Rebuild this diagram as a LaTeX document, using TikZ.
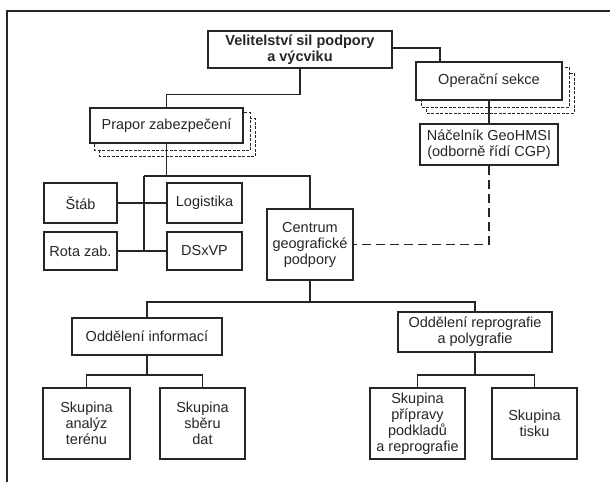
\documentclass[tikz,border=0pt]{standalone}
\usepackage{fontspec}
\setmainfont{Liberation Sans}
\usetikzlibrary{backgrounds}
\definecolor{ink}{HTML}{262626}
\begin{document}
\begin{tikzpicture}[x=1pt,y=-1pt,
  box/.style={draw=ink, fill=white, line width=1.6pt, inner sep=0pt, align=center,
    font=\fontsize{14.5}{16}\selectfont, text=ink},
  thickbox/.style={box, line width=2.6pt},
  conn/.style={draw=ink, line width=1.35pt},
  dconn/.style={draw=ink, line width=1.5pt, dash pattern=on 9pt off 5pt},
  shadowbox/.style={draw=ink, fill=white, line width=0.9pt, dash pattern=on 3pt off 1.5pt},
  frameline/.style={draw=ink, line width=1.5pt}]
\useasboundingbox (0,0) rectangle (610,482);
\draw[frameline] (7,482) -- (7,11) -- (610,11);

% nodes
\node[thickbox, minimum width=184pt, minimum height=37pt, font=\fontsize{14.5}{16}\selectfont\bfseries] (top) at (300,49.5) {Velitelství sil podpory\\a výcviku};
\node[box, line width=2pt, minimum width=146pt, minimum height=38pt] (ops) at (489,81) {Operační sekce};
\node[thickbox, minimum width=138pt, minimum height=41pt] (nac) at (489,144.5) {Náčelník GeoHMSI\\(odborně řídí CGP)};
\node[thickbox, minimum width=153pt, minimum height=35pt] (pra) at (166.5,125.5) {Prapor zabezpečení};
\node[box, minimum width=73pt, minimum height=40pt] (stab) at (80.5,203) {Štáb};
\node[box, minimum width=75pt, minimum height=40pt] (log) at (204.5,203) {Logistika};
\node[box, minimum width=73pt, minimum height=38pt] (rota) at (80.5,251) {Rota zab.};
\node[box, minimum width=75pt, minimum height=38pt] (dsx) at (204.5,251) {DSxVP};
\node[thickbox, minimum width=86pt, minimum height=71pt] (cgp) at (310,244.5) {Centrum\\geografické\\podpory};
\node[thickbox, minimum width=150pt, minimum height=37pt] (oi) at (147,336.5) {Oddělení informací};
\node[thickbox, minimum width=154pt, minimum height=40pt] (or) at (475,332) {Oddělení reprografie\\a polygrafie};
\node[box, minimum width=87pt, minimum height=71pt] (s1) at (86.5,423.5) {Skupina\\analýz\\terénu};
\node[box, minimum width=85pt, minimum height=71pt] (s2) at (202.5,423.5) {Skupina\\sběru\\dat};
\node[box, minimum width=95pt, minimum height=71pt] (s3) at (417.5,423.5) {Skupina\\přípravy\\podkladů\\a reprografie};
\node[box, minimum width=85pt, minimum height=71pt] (s4) at (534.5,423.5) {Skupina\\tisku};

% stacked copies
\begin{pgfonlayer}{background}
\foreach \n in {pra,ops}{
  \draw[shadowbox] ([shift={(11,12)}]\n.north west) rectangle ([shift={(11,12)}]\n.south east);
  \draw[shadowbox] ([shift={(6,6)}]\n.north west) rectangle ([shift={(6,6)}]\n.south east);
}
\end{pgfonlayer}

% connectors
\coordinate (j0) at (440,48);
\coordinate (j1) at (144,176);
\coordinate (j2) at (310,302);
\draw[conn] (top.east |- j0) -- (j0) -- (j0 |- ops.north);
\draw[conn] (ops.south) -- (nac.north);
\draw[conn] (top.south) -- ++(0,25) -| (pra.north);
\draw[conn] (pra.south) -- (pra.south |- j1);
\draw[conn] (j1) -| (cgp.north);
\draw[conn] (j1) -- (j1 |- rota.east);
\draw[conn] (stab.east) -- (log.west);
\draw[conn] (rota.east) -- (dsx.west);
\draw[dconn] (nac.south) |- (cgp.east);
\draw[conn] (cgp.south) -- (j2);
\draw[conn] (oi.north) |- (j2) -| (or.north);
\draw[conn] (oi.south) -- (oi.south |- 0,375);
\draw[conn] (s1.north) |- (oi.south |- 0,375) -| (s2.north);
\draw[conn] (or.south) -- (or.south |- 0,375);
\draw[conn] (s3.north) |- (or.south |- 0,375) -| (s4.north);
\end{tikzpicture}
\end{document}
